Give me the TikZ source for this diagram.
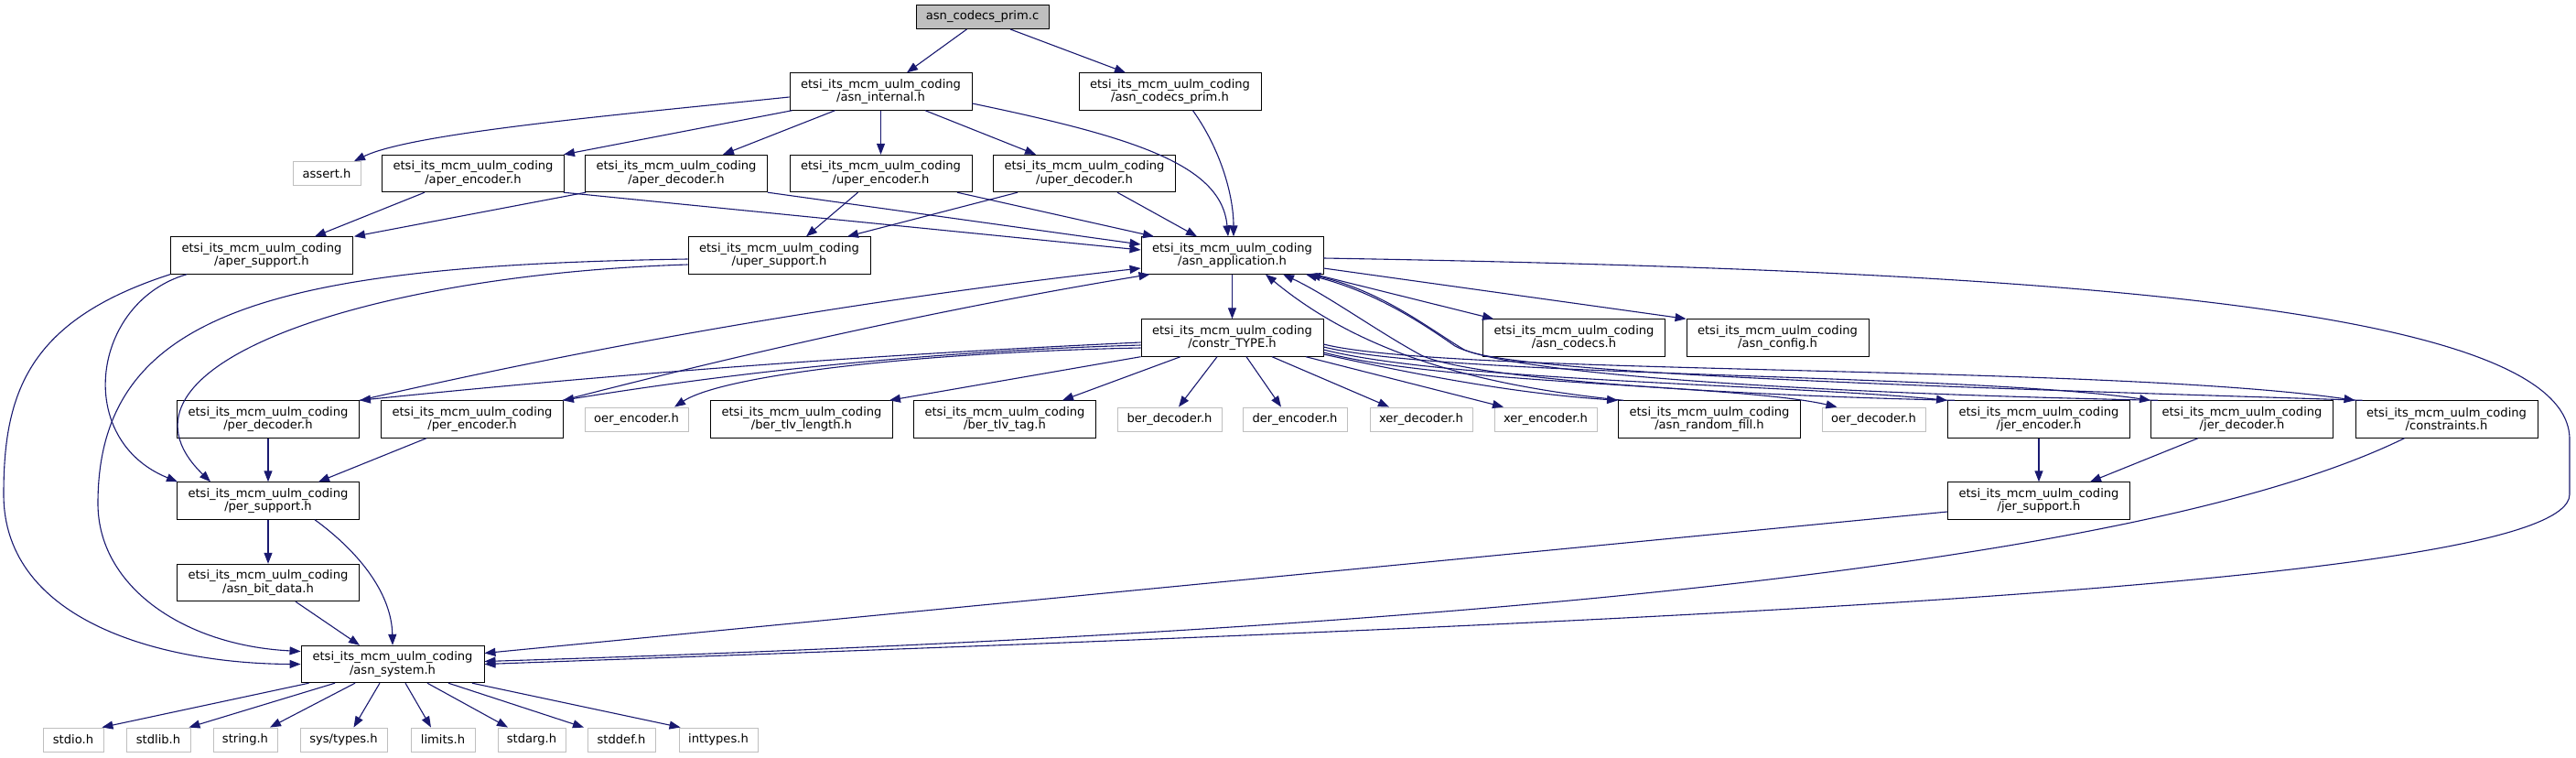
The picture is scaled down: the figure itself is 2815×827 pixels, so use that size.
\documentclass[tikz,border=0pt]{standalone}
\usepackage{fontspec}
\setmainfont{DejaVu Sans}
\usetikzlibrary{arrows.meta}
\definecolor{edgeblue}{HTML}{191970}
\definecolor{graybox}{HTML}{BFBFBF}
\newcommand{\etsi}[1]{etsi\_its\_mcm\_uulm\_coding\\/#1}
\begin{document}
\begin{tikzpicture}[x=1pt,y=-1pt,
 nd/.style={draw=black, line width=0.9pt, fill=white, rectangle, inner sep=0pt,
   minimum width=#1, minimum height=40.5pt, align=center,
   font=\fontsize{13.1}{14.3}\selectfont},
 nd/.default=199pt,
 sysnd/.style={nd=#1, draw=graybox, minimum height=26pt},
 dep/.style={draw=edgeblue, line width=1.1pt, -{Triangle[length=12pt,width=9pt]}},
]
\fill[white] (0,0) rectangle (2815,827);
\useasboundingbox (0,0) rectangle (2815,827);

% nodes
\node[nd=145pt, fill=graybox, minimum height=26pt] (root) at (1073.5,18.5) {asn\_codecs\_prim.c};
\node[nd] (intl) at (962.5,100) {\etsi{asn\_internal.h}};
\node[nd] (cprim) at (1278.5,100) {\etsi{asn\_codecs\_prim.h}};
\node[sysnd=74pt] (assert) at (357,189.5) {assert.h};
\node[nd] (apenc) at (517,189.5) {\etsi{aper\_encoder.h}};
\node[nd] (apdec) at (739,189.5) {\etsi{aper\_decoder.h}};
\node[nd] (upenc) at (962.5,189.5) {\etsi{uper\_encoder.h}};
\node[nd] (updec) at (1185,189.5) {\etsi{uper\_decoder.h}};
\node[nd] (apsup) at (286,279) {\etsi{aper\_support.h}};
\node[nd] (upsup) at (851.5,279) {\etsi{uper\_support.h}};
\node[nd] (app) at (1346.5,279) {\etsi{asn\_application.h}};
\node[nd] (ctype) at (1346.5,369) {\etsi{constr\_TYPE.h}};
\node[nd] (codecs) at (1720,369) {\etsi{asn\_codecs.h}};
\node[nd] (config) at (1942.5,369) {\etsi{asn\_config.h}};
\node[nd] (perdec) at (293,458) {\etsi{per\_decoder.h}};
\node[nd] (perenc) at (516,458) {\etsi{per\_encoder.h}};
\node[sysnd=113pt] (oerenc) at (695.5,458) {oer\_encoder.h};
\node[nd] (bertl) at (876,458) {\etsi{ber\_tlv\_length.h}};
\node[nd] (bertag) at (1098,458) {\etsi{ber\_tlv\_tag.h}};
\node[sysnd=114pt] (berdec) at (1278,458) {ber\_decoder.h};
\node[sysnd=114pt] (derenc) at (1415,458) {der\_encoder.h};
\node[sysnd=112pt] (xerdec) at (1553,458) {xer\_decoder.h};
\node[sysnd=112pt] (xerenc) at (1689,458) {xer\_encoder.h};
\node[nd] (rfill) at (1868,458) {\etsi{asn\_random\_fill.h}};
\node[sysnd=113pt] (oerdec) at (2047.5,458) {oer\_decoder.h};
\node[nd] (jerenc) at (2228,458) {\etsi{jer\_encoder.h}};
\node[nd] (jerdec) at (2450,458) {\etsi{jer\_decoder.h}};
\node[nd] (constr) at (2673.5,458) {\etsi{constraints.h}};
\node[nd] (persup) at (293,547) {\etsi{per\_support.h}};
\node[nd] (jersup) at (2228,547) {\etsi{jer\_support.h}};
\node[nd] (bitdata) at (293,636.5) {\etsi{asn\_bit\_data.h}};
\node[nd=200pt] (system) at (429,725.5) {\etsi{asn\_system.h}};
\node[sysnd=66pt] (stdio) at (80,808) {stdio.h};
\node[sysnd=70pt] (stdlib) at (173,808) {stdlib.h};
\node[sysnd=70pt] (string) at (268,808) {string.h};
\node[sysnd=95pt] (systypes) at (375.5,808) {sys/types.h};
\node[sysnd=70pt] (limits) at (484,808) {limits.h};
\node[sysnd=74pt] (stdarg) at (581,808) {stdarg.h};
\node[sysnd=74pt] (stddef) at (679,808) {stddef.h};
\node[sysnd=86pt] (inttypes) at (785,808) {inttypes.h};

% edges
\draw[dep] ([xshift=-17pt]root.south) -- ([xshift=28.5pt]intl.north);
\draw[dep] ([xshift=30.5pt]root.south) -- ([xshift=-48.5pt]cprim.north);
\draw[dep] ([yshift=-6pt]intl.west) .. controls (680,125) and (450,145) .. ([xshift=30pt]assert.north);
\draw[dep] ([xshift=3pt]intl.south west) -- ([xshift=-1pt]apenc.north east);
\draw[dep] ([xshift=-50pt]intl.south) -- ([xshift=51pt]apdec.north);
\draw[dep] (intl.south) -- (upenc.north);
\draw[dep] ([xshift=48.5pt]intl.south) -- ([xshift=-53pt]updec.north);
\draw[dep] ([yshift=-13pt]intl.east) .. controls (1240,150) and (1335,180) .. ([xshift=-4.5pt]app.north);
\draw[dep] ([xshift=25pt]cprim.south) .. controls (1335,165) and (1348,215) .. ([xshift=1.5pt]app.north);

\draw[dep] ([xshift=-53pt]apenc.south) -- ([xshift=58pt]apsup.north);
\draw[dep] ([xshift=-1pt]apenc.south east) -- ([yshift=6pt]app.west);
\draw[dep] ([xshift=1pt]apdec.south west) -- ([xshift=1pt]apsup.north east);
\draw[dep] (apdec.south east) -- ([yshift=12pt]app.west);
\draw[dep] ([xshift=-25pt]upenc.south) -- ([xshift=29.5pt]upsup.north);
\draw[dep] ([xshift=83.5pt]upenc.south) -- ([xshift=-85.5pt]app.north);
\draw[dep] ([xshift=-73pt]updec.south) -- ([xshift=74.5pt]upsup.north);
\draw[dep] ([xshift=36pt]updec.south) -- ([xshift=-38.5pt]app.north);

\draw[dep] ([xshift=-82pt]apsup.south) .. controls (100,330) and (80,480) .. ([xshift=1pt]persup.north west);
\draw[dep] (apsup.south west) .. controls (30,350) and (4,430) .. (4,540) .. controls (4,680) and (180,725) .. (system.west);
\draw[dep] ([yshift=-10pt]upsup.west) .. controls (400,300) and (100,400) .. ([xshift=-63pt]persup.north);
\draw[dep] ([yshift=-4pt]upsup.west) .. controls (300,290) and (107,340) .. (107,550) .. controls (107,640) and (200,705) .. ([yshift=14pt]system.west);

\draw[dep] (perdec.south) -- (persup.north);
\draw[dep] ([xshift=-50pt]perenc.south) -- ([xshift=55pt]persup.north);
\draw[dep] (perdec.north east) .. controls (677,372) and (962,325) .. ([yshift=-14pt]app.west);
\draw[dep] ([xshift=-1pt]perenc.north east) .. controls (829,382) and (1042,335) .. ([xshift=-90pt]app.south);

\draw[dep] ([yshift=-5pt]ctype.west) .. controls (962,387) and (677,408) .. (perdec.north east);
\draw[dep] ([yshift=-8pt]ctype.west) .. controls (1037,383) and (826,403) .. ([xshift=-1pt]perenc.north east);
\draw[dep] ([yshift=-11pt]ctype.west) .. controls (1000,385) and (790,410) .. ([xshift=41.5pt]oerenc.north);
\draw[dep] (ctype.south west) -- ([xshift=-4pt]bertl.north east);
\draw[dep] ([xshift=-56.5pt]ctype.south) -- ([xshift=63pt]bertag.north);
\draw[dep] ([xshift=-16.5pt]ctype.south) -- ([xshift=10pt]berdec.north);
\draw[dep] ([xshift=15.5pt]ctype.south) -- ([xshift=-15pt]derenc.north);
\draw[dep] ([xshift=43.5pt]ctype.south) -- ([xshift=-35pt]xerdec.north);
\draw[dep] ([xshift=80.5pt]ctype.south) -- ([xshift=-46pt]xerenc.north);
\draw[dep] ([yshift=-18pt]ctype.east) .. controls (1560,412) and (1660,430) .. (rfill.north west);
\draw[dep] ([yshift=-16pt]ctype.east) .. controls (1580,420) and (1900,420) .. ([xshift=-40pt]oerdec.north);
\draw[dep] ([yshift=-13pt]ctype.east) .. controls (1580,416) and (1950,420) .. (jerenc.north west);
\draw[dep] ([yshift=-10pt]ctype.east) .. controls (1580,412) and (2150,408) .. (jerdec.north west);
\draw[dep] ([yshift=-7pt]ctype.east) .. controls (1580,410) and (2300,398) .. (constr.north west);

\draw[dep] ([xshift=6pt]rfill.north west) .. controls (1600,420) and (1480,380) .. ([xshift=36.5pt]app.south);
\draw[dep] ([xshift=8pt]jerenc.north west) .. controls (1900,432) and (1610,415) .. (1553,388) .. controls (1505,362) and (1450,322) .. ([xshift=55.5pt]app.south);
\draw[dep] ([xshift=8pt]jerdec.north west) .. controls (2000,430) and (1650,410) .. (1590,378) .. controls (1550,350) and (1500,318) .. ([xshift=80.5pt]app.south);
\draw[dep] ([xshift=8pt]constr.north west) .. controls (2200,425) and (1660,410) .. (1600,382) .. controls (1560,358) and (1510,318) .. ([xshift=84.5pt]app.south);

\draw[dep] ([xshift=90pt]app.south) -- ([xshift=12pt]codecs.north west);
\draw[dep] ([yshift=-14pt]app.east) -- (config.north west);
\draw[dep] (app.south) -- (ctype.north);
\draw[dep] ([yshift=-3pt]app.east) .. controls (2200,295) and (2808,330) .. (2808,480) -- (2808,540) .. controls (2808,640) and (1800,680) .. (system.east);
\draw[dep] ([xshift=-46pt]constr.south) .. controls (2420,580) and (1900,680) .. ([yshift=3pt]system.east);
\draw[dep] ([yshift=-12pt]jersup.west) -- ([yshift=12pt]system.east);
\draw[dep] (jerenc.south) -- (jersup.north);
\draw[dep] ([xshift=-48pt]jerdec.south) -- ([xshift=56pt]jersup.north);

\draw[dep] (persup.south) -- (bitdata.north);
\draw[dep] ([xshift=51pt]persup.south) .. controls (395,605) and (428,650) .. (system.north);
\draw[dep] ([xshift=30pt]bitdata.south) -- ([xshift=-36pt]system.north);

\draw[dep] ([xshift=-91.5pt]system.south) -- ([xshift=-2pt]stdio.north east);
\draw[dep] ([xshift=-63pt]system.south) -- ([xshift=-2pt]stdlib.north east);
\draw[dep] ([xshift=-41pt]system.south) -- ([xshift=27pt]string.north);
\draw[dep] ([xshift=-14pt]system.south) -- ([xshift=11pt]systypes.north);
\draw[dep] ([xshift=14pt]system.south) -- ([xshift=-13pt]limits.north);
\draw[dep] ([xshift=38pt]system.south) -- ([xshift=-26pt]stdarg.north);
\draw[dep] ([xshift=61pt]system.south) -- ([xshift=-41pt]stddef.north);
\draw[dep] ([xshift=87pt]system.south) -- ([xshift=2pt]inttypes.north west);
\end{tikzpicture}
\end{document}
